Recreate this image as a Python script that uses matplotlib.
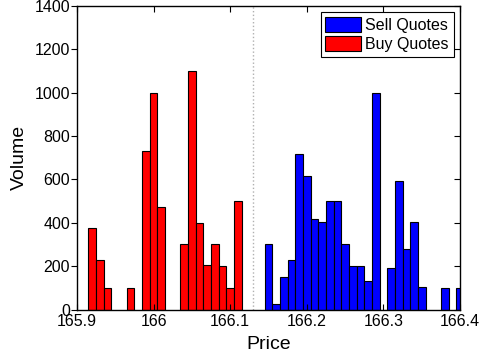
import matplotlib
matplotlib.use("Agg")
import matplotlib.pyplot as plt

plt.rcParams['font.family'] = ['Liberation Sans', 'DejaVu Sans']

buy_prices = [165.92, 165.93, 165.94, 165.97, 165.99, 166.00, 166.01, 166.04, 166.05,
              166.06, 166.07, 166.08, 166.09, 166.10, 166.11]
buy_volumes = [375, 230, 100, 100, 730, 1000, 475, 300, 1100, 400, 205, 300, 200, 100, 500]

sell_prices = [166.15, 166.16, 166.17, 166.18, 166.19, 166.20, 166.21, 166.22, 166.23,
               166.24, 166.25, 166.26, 166.27, 166.28, 166.29, 166.30, 166.31, 166.32,
               166.33, 166.34, 166.35, 166.38, 166.40]
sell_volumes = [300, 25, 152, 228, 717, 615, 417, 402, 502, 502, 300, 202, 202, 132,
                1000, 0, 191, 592, 277, 402, 102, 100, 100]

mid_price = 166.13
bar_width = 0.01

fig = plt.figure(figsize=(4.83, 3.58), dpi=100)
ax = fig.add_axes([77/483, 1 - 309.5/358, (460-77)/483, (309.5-6)/358])

ax.bar(sell_prices, sell_volumes, width=bar_width, color='#0000ff', edgecolor='black',
       linewidth=0.8, label='Sell Quotes')
ax.bar(buy_prices, buy_volumes, width=bar_width, color='#ff0000', edgecolor='black',
       linewidth=0.8, label='Buy Quotes')
ax.axvline(mid_price, color='#b0b0b0', linestyle=':', linewidth=1.0)

ax.set_xlim(165.9, 166.4)
ax.set_ylim(0, 1400)
ax.set_xticks([165.9, 166.0, 166.1, 166.2, 166.3, 166.4])
ax.set_xticklabels(['165.9', '166', '166.1', '166.2', '166.3', '166.4'])
ax.set_yticks(range(0, 1401, 200))
ax.tick_params(axis='x', direction='in', top=True, labelsize=11.5, length=4, pad=3)
ax.tick_params(axis='y', direction='out', labelsize=11.5, length=4, pad=1)
ax.tick_params(axis='y', which='major', right=True)
for t in ax.yaxis.get_ticklines()[1::2]:
    t.set_marker(0)  # right ticks pointing inward
ax.set_xlabel('Price', fontsize=14, labelpad=5)
ax.set_ylabel('Volume', fontsize=14, labelpad=5)
for s in ax.spines.values():
    s.set_linewidth(1.0)

leg = ax.legend(loc='upper right', fontsize=11.5, fancybox=False, edgecolor='black',
                framealpha=1, borderaxespad=0.4, handlelength=2.2, handleheight=1.05,
                borderpad=0.3, labelspacing=0.2, handletextpad=0.3)
leg.get_frame().set_linewidth(0.8)

fig.savefig('out.png', dpi=100)
